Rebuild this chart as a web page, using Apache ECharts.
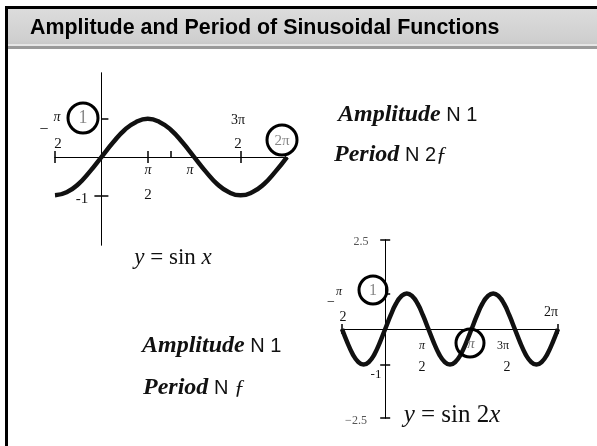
<!DOCTYPE html>
<html>
<head>
<meta charset="utf-8">
<script src="https://cdn.jsdelivr.net/npm/echarts@6/dist/echarts.min.js"></script>
<style>
  html, body { margin: 0; padding: 0; background: #fff; }
  #chart { width: 597px; height: 446px; }
</style>
</head>
<body>
<div id="chart"></div>
<script>
// x positions in sixteenths of pi
var sinX = [-8, -6, -4, -2, 0, 2, 4, 6, 8, 10, 12, 14, 16, 18, 20, 22, 24, 26, 28, 30, 32]
var sinY = [-1, -0.92, -0.71, -0.38, 0, 0.38, 0.71, 0.92, 1, 0.92, 0.71, 0.38, 0, -0.38, -0.71, -0.92, -1, -0.92, -0.71, -0.38, 0]

var sin2X = [-8, -7, -6, -5, -4, -3, -2, -1, 0, 1, 2, 3, 4, 5, 6, 7, 8, 9, 10, 11, 12, 13, 14, 15, 16,
  17, 18, 19, 20, 21, 22, 23, 24, 25, 26, 27, 28, 29, 30, 31, 32]
var sin2Y = [0, -0.38, -0.71, -0.92, -1, -0.92, -0.71, -0.38, 0, 0.38, 0.71, 0.92, 1, 0.92, 0.71, 0.38, 0,
  -0.38, -0.71, -0.92, -1, -0.92, -0.71, -0.38, 0, 0.38, 0.71, 0.92, 1, 0.92, 0.71, 0.38, 0,
  -0.38, -0.71, -0.92, -1, -0.92, -0.71, -0.38, 0]

// tick marks on the axes
var ticks1Up = [-8, 8, 12, 24], ticks1Down = [-8, 8, 24]
var ticks1Left = [-1], ticks1Right = [1, -1]
var ticks2X = [-8, 32]
var ticks2Left = [2.5, -1, -2.5], ticks2Right = [2.5, 1, -1, -2.5]

var titleText = 'Amplitude and Period of Sinusoidal Functions'

var chart = echarts.init(document.getElementById('chart'))

var serif = '"Liberation Serif", "Times New Roman", serif'
var sans = '"Liberation Sans", Arial, sans-serif'

function pairs(xs, ys) {
  var out = []
  for (var i = 0; i < xs.length; i++) out.push([xs[i], ys[i]])
  return out
}

function xAx(grid, pos, ticks, len) {
  return {
    type: 'value', gridIndex: grid, position: pos, min: -8, max: 32,
    axisLine: { show: true, onZero: true, lineStyle: { color: '#000', width: 1 } },
    axisTick: { show: true, inside: false, length: len, customValues: ticks, lineStyle: { color: '#000', width: 1.5 } },
    axisLabel: { show: false }, splitLine: { show: false }
  }
}
function yAx(grid, pos, ticks, min, max, len) {
  return {
    type: 'value', gridIndex: grid, position: pos, min: min, max: max,
    axisLine: { show: true, onZero: true, lineStyle: { color: '#000', width: 1 } },
    axisTick: { show: true, inside: false, length: len, customValues: ticks, lineStyle: { color: '#000', width: 1.5 } },
    axisLabel: { show: false }, splitLine: { show: false }
  }
}

function txt(t, x, y, size, opts) {
  opts = opts || {}
  return {
    type: 'text', z: 20,
    style: {
      text: t, x: x, y: y,
      font: (opts.style || 'normal') + ' ' + (opts.weight || 'normal') + ' ' + size + 'px ' + (opts.family || serif),
      fill: opts.color || '#111', align: opts.align || 'center', verticalAlign: 'middle',
      rich: opts.rich
    }
  }
}
function ring(cx, cy, r) {
  return { type: 'circle', z: 21, shape: { cx: cx, cy: cy, r: r }, style: { fill: 'none', stroke: '#000', lineWidth: 3 } }
}

function mathRich(size) {
  return {
    i: { fontStyle: 'italic', fontFamily: 'Liberation Serif', fontSize: size, color: '#111' },
    r: { fontFamily: 'Liberation Serif', fontSize: size, color: '#111' }
  }
}

function annRich(size) {
  return {
    a: { fontStyle: 'italic', fontWeight: 'bold', fontFamily: 'Liberation Serif', fontSize: size, color: '#111' },
    n: { fontFamily: 'Liberation Sans', fontSize: size - 4, color: '#111' },
    f: { fontStyle: 'italic', fontFamily: 'Liberation Serif', fontSize: size - 2, color: '#111' }
  }
}

var graphics = [
  // slide frame and title bar
  { type: 'rect', z: 1, shape: { x: 8, y: 9, width: 589, height: 39 },
    style: { fill: new echarts.graphic.LinearGradient(0, 0, 0, 1, [
      { offset: 0, color: '#dcdcdc' }, { offset: 0.8, color: '#cfcfcf' }, { offset: 1, color: '#c4c4c4' }]) } },
  { type: 'rect', z: 2, shape: { x: 8, y: 44, width: 589, height: 2 }, style: { fill: '#e6e6e6' } },
  { type: 'rect', z: 2, shape: { x: 8, y: 46, width: 589, height: 3 }, style: { fill: '#9a9a9a' } },
  { type: 'rect', z: 3, shape: { x: 5, y: 6, width: 3, height: 440 }, style: { fill: '#000' } },
  { type: 'rect', z: 3, shape: { x: 5, y: 6, width: 592, height: 3 }, style: { fill: '#000' } },
  txt(titleText, 30, 28, 21.4, { weight: 'bold', family: sans, align: 'left', color: '#000' }),

  // labels, chart 1
  txt('\u2212', 44, 130, 16),
  txt('\u03c0', 57, 117, 14, { style: 'italic' }),
  txt('2', 58, 144, 15),
  txt('1', 83, 118, 18, { color: '#888' }),
  txt('3\u03c0', 238, 120, 14),
  txt('2', 238, 144, 15),
  txt('2\u03c0', 282, 141, 15, { color: '#888' }),
  txt('\u03c0', 148, 170, 14, { style: 'italic' }),
  txt('2', 148, 195, 15),
  txt('\u03c0', 190, 170, 14, { style: 'italic' }),
  txt('-1', 82, 199, 15),
  txt('{i|y}{r| = sin }{i|x}', 173, 258, 23, { rich: mathRich(23) }),
  ring(83, 118, 15),
  ring(282, 140, 15),

  // labels, chart 2
  txt('2.5', 361, 242, 12, { color: '#555' }),
  txt('\u2212', 331, 302, 14),
  txt('\u03c0', 339, 292, 12, { style: 'italic' }),
  txt('2', 343, 317, 14),
  txt('1', 373, 291, 16, { color: '#888' }),
  txt('2\u03c0', 551, 312, 14),
  txt('\u03c0', 422, 346, 12, { style: 'italic' }),
  txt('2', 422, 367, 14),
  txt('\u03c0', 471, 344, 15, { style: 'italic', color: '#777' }),
  txt('3\u03c0', 503, 346, 12),
  txt('2', 507, 367, 14),
  txt('-1', 376, 375, 13),
  txt('\u22122.5', 356, 421, 12, { color: '#555' }),
  txt('{i|y}{r| = sin 2}{i|x}', 452, 415, 25, { rich: mathRich(25) }),
  ring(373, 290, 14),
  ring(470, 343, 14),

  // amplitude / period notes
  txt('{a|Amplitude}{n| N 1}', 338, 115, 24, { align: 'left', rich: annRich(24) }),
  txt('{a|Period}{n| N 2}{f|\u0192}', 334, 155, 24, { align: 'left', rich: annRich(24) }),
  txt('{a|Amplitude}{n| N 1}', 142, 346, 24, { align: 'left', rich: annRich(24) }),
  txt('{a|Period}{n| N }{f|\u0192}', 143, 388, 24, { align: 'left', rich: annRich(24) })
]

var option = {
  animation: false,
  backgroundColor: '#fff',
  grid: [
    { left: 55, top: 73, width: 232, height: 172 },
    { left: 342, top: 240, width: 216, height: 178 }
  ],
  xAxis: [
    xAx(0, 'bottom', ticks1Down, 6),
    xAx(0, 'top', ticks1Up, 6),
    xAx(1, 'bottom', ticks2X, 5),
    xAx(1, 'top', ticks2X, 5)
  ],
  yAxis: [
    yAx(0, 'left', ticks1Left, -2.3, 2.2, 7),
    yAx(0, 'right', ticks1Right, -2.3, 2.2, 7),
    yAx(1, 'left', ticks2Left, -2.5, 2.5, 5),
    yAx(1, 'right', ticks2Right, -2.5, 2.5, 5)
  ],
  series: [
    {
      type: 'line', xAxisIndex: 0, yAxisIndex: 0, data: pairs(sinX, sinY),
      smooth: true, symbol: 'none', lineStyle: { color: '#111', width: 4.5 }, z: 5
    },
    {
      type: 'line', xAxisIndex: 2, yAxisIndex: 2, data: pairs(sin2X, sin2Y),
      smooth: true, symbol: 'none', lineStyle: { color: '#111', width: 4.5 }, z: 5
    }
  ],
  graphic: graphics
}

chart.setOption(option)
</script>
</body>
</html>
